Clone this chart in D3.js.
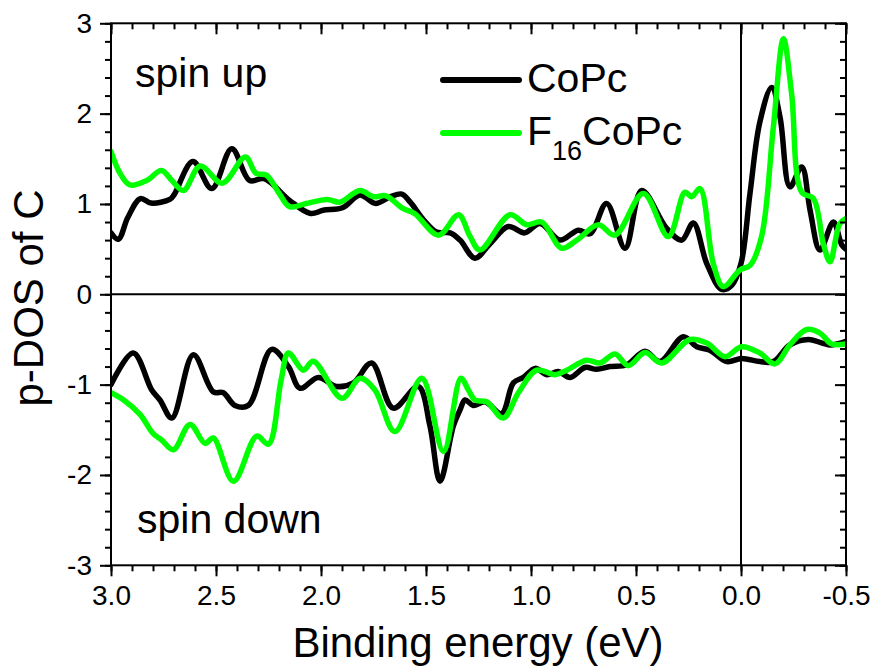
<!DOCTYPE html>
<html><head><meta charset="utf-8">
<script src="https://cdn.jsdelivr.net/npm/d3@7"></script>
<style>
html,body{margin:0;padding:0;background:#fff;}
svg{display:block;}
text{font-family:"Liberation Sans",Arial,Helvetica,sans-serif;fill:#000;}
</style></head>
<body>
<svg id="chart" width="874" height="667"></svg>
<script>
// ---- data (binding energy eV, p-DOS) ----
const copcUp = [[3.0,0.68],[2.965,0.61],[2.92,0.85],[2.86,1.06],[2.81,1.01],[2.72,1.05],[2.70,1.10],[2.61,1.47],[2.52,1.17],[2.425,1.61],[2.34,1.26],[2.27,1.28],[2.15,1.04],[2.05,0.895],[1.99,0.93],[1.895,0.96],[1.815,1.10],[1.74,1.005],[1.67,1.08],[1.615,1.11],[1.575,1.02],[1.51,0.82],[1.45,0.69],[1.385,0.68],[1.338,0.60],[1.267,0.40],[1.195,0.56],[1.108,0.75],[1.03,0.68],[0.957,0.785],[0.862,0.60],[0.775,0.71],[0.719,0.67],[0.64,1.005],[0.552,0.51],[0.473,1.15],[0.354,0.73],[0.282,0.60],[0.227,0.79],[0.163,0.34],[0.092,0.055],[0.044,0.10],[0.0,0.34],[-0.043,1.12],[-0.09,1.91],[-0.146,2.29],[-0.186,1.96],[-0.233,1.19],[-0.289,1.41],[-0.329,0.93],[-0.376,0.49],[-0.44,0.80],[-0.48,0.545],[-0.5,0.50]];
const f16Up = [[3.0,1.58],[2.957,1.34],[2.91,1.21],[2.83,1.26],[2.76,1.37],[2.71,1.26],[2.655,1.15],[2.575,1.42],[2.47,1.23],[2.36,1.52],[2.31,1.34],[2.26,1.32],[2.20,1.12],[2.15,0.97],[2.07,1.005],[1.97,1.05],[1.91,1.02],[1.815,1.15],[1.75,1.08],[1.69,1.09],[1.61,0.95],[1.555,0.895],[1.44,0.655],[1.345,0.88],[1.29,0.64],[1.243,0.49],[1.10,0.88],[1.02,0.77],[0.949,0.80],[0.854,0.51],[0.782,0.60],[0.679,0.77],[0.60,0.655],[0.465,1.115],[0.346,0.64],[0.267,1.13],[0.235,1.08],[0.195,1.17],[0.132,0.34],[0.084,0.085],[0.005,0.27],[-0.043,0.32],[-0.098,0.64],[-0.154,1.85],[-0.202,2.83],[-0.241,2.22],[-0.289,1.13],[-0.345,1.06],[-0.392,0.56],[-0.424,0.36],[-0.47,0.78],[-0.5,0.84]];
const copcDown = [[3.0,-1.0],[2.894,-0.65],[2.806,-1.06],[2.767,-1.17],[2.71,-1.37],[2.608,-0.67],[2.513,-1.08],[2.465,-1.09],[2.41,-1.23],[2.346,-1.23],[2.235,-0.61],[2.155,-0.80],[2.10,-1.04],[2.013,-0.92],[1.925,-1.02],[1.846,-0.98],[1.759,-0.76],[1.656,-1.26],[1.537,-1.02],[1.481,-1.46],[1.433,-2.07],[1.37,-1.46],[1.338,-1.28],[1.314,-1.17],[1.275,-1.23],[1.219,-1.19],[1.14,-1.32],[1.084,-0.98],[1.036,-0.92],[0.98,-0.82],[0.925,-0.89],[0.87,-0.855],[0.814,-0.92],[0.743,-0.81],[0.687,-0.83],[0.624,-0.80],[0.544,-0.78],[0.457,-0.63],[0.386,-0.745],[0.275,-0.47],[0.211,-0.58],[0.148,-0.62],[0.068,-0.745],[-0.003,-0.71],[-0.09,-0.745],[-0.154,-0.745],[-0.233,-0.56],[-0.321,-0.50],[-0.424,-0.56],[-0.5,-0.52]];
const f16Down = [[3.0,-1.09],[2.94,-1.17],[2.862,-1.33],[2.80,-1.54],[2.76,-1.61],[2.703,-1.72],[2.624,-1.44],[2.552,-1.65],[2.513,-1.59],[2.417,-2.07],[2.306,-1.57],[2.25,-1.66],[2.19,-0.95],[2.155,-0.65],[2.084,-0.84],[2.037,-0.74],[1.90,-1.15],[1.814,-0.93],[1.743,-1.06],[1.648,-1.52],[1.52,-0.93],[1.417,-1.74],[1.334,-0.93],[1.298,-1.06],[1.267,-1.17],[1.211,-1.19],[1.132,-1.37],[1.06,-1.09],[0.973,-0.84],[0.885,-0.89],[0.83,-0.84],[0.735,-0.73],[0.671,-0.76],[0.60,-0.66],[0.536,-0.79],[0.457,-0.645],[0.378,-0.76],[0.243,-0.50],[0.163,-0.54],[0.076,-0.69],[-0.003,-0.58],[-0.09,-0.65],[-0.162,-0.77],[-0.233,-0.56],[-0.313,-0.39],[-0.376,-0.43],[-0.432,-0.55],[-0.5,-0.55]];

const xTicks = [3.0, 2.5, 2.0, 1.5, 1.0, 0.5, 0.0, -0.5];
const yTicks = [-3, -2, -1, 0, 1, 2, 3];
const seriesNames = ["CoPc", "F16CoPc"];
const seriesColors = ["#000000", "#00ff00"];

// ---- layout ----
const svg = d3.select("#chart");
const L = 111, R = 846, T = 23.3, B = 565.3;
const x = d3.scaleLinear().domain([3.0, -0.5]).range([L, R]);
const y = d3.scaleLinear().domain([-3, 3]).range([B, T]);

svg.append("defs").append("clipPath").attr("id", "clip")
  .append("rect").attr("x", L).attr("y", T).attr("width", R - L).attr("height", B - T);

// zero lines
svg.append("line").attr("x1", L).attr("x2", R).attr("y1", y(0)).attr("y2", y(0))
  .attr("stroke", "#000").attr("stroke-width", 2);
svg.append("line").attr("x1", x(0)).attr("x2", x(0)).attr("y1", T).attr("y2", B)
  .attr("stroke", "#000").attr("stroke-width", 2);

// curves
const line = d3.line().x(d => x(d[0])).y(d => y(d[1])).curve(d3.curveCatmullRom.alpha(0.5));
const g = svg.append("g").attr("clip-path", "url(#clip)");
[[copcUp, 0], [copcDown, 0], [f16Up, 1], [f16Down, 1]].forEach(([data, i]) => {
  g.append("path").datum(data).attr("d", line)
    .attr("fill", "none").attr("stroke", seriesColors[i]).attr("stroke-width", 5.5)
    .attr("stroke-linejoin", "round").attr("stroke-linecap", "round");
});

// axes
const minorX = d3.range(-0.5, 3.0001, 0.1).map(v => +v.toFixed(2));
const minorY = d3.range(-3, 3.0001, 0.2).map(v => +v.toFixed(2));

function styleAxis(sel) {
  sel.select(".domain").remove();
  sel.selectAll("line").attr("stroke", "#000").attr("stroke-width", 2);
}
// minor ticks
svg.append("g").attr("transform", `translate(0,${B})`)
  .call(d3.axisBottom(x).tickValues(minorX).tickSize(6).tickFormat("")).call(styleAxis);
svg.append("g").attr("transform", `translate(0,${T})`)
  .call(d3.axisBottom(x).tickValues(minorX).tickSize(6).tickFormat("")).call(styleAxis);
svg.append("g").attr("transform", `translate(${L},0)`)
  .call(d3.axisLeft(y).tickValues(minorY).tickSize(6).tickFormat("")).call(styleAxis);
svg.append("g").attr("transform", `translate(${R},0)`)
  .call(d3.axisLeft(y).tickValues(minorY).tickSize(6).tickFormat("")).call(styleAxis);
// major ticks
const bx = svg.append("g").attr("transform", `translate(0,${B})`)
  .call(d3.axisBottom(x).tickValues(xTicks).tickSize(11).tickPadding(9).tickFormat(d3.format(".1f"))).call(styleAxis);
svg.append("g").attr("transform", `translate(0,${T})`)
  .call(d3.axisBottom(x).tickValues(xTicks).tickSize(11).tickFormat("")).call(styleAxis);
const ly = svg.append("g").attr("transform", `translate(${L},0)`)
  .call(d3.axisLeft(y).tickValues(yTicks).tickSize(11).tickPadding(8).tickFormat(d3.format("d"))).call(styleAxis);
svg.append("g").attr("transform", `translate(${R},0)`)
  .call(d3.axisLeft(y).tickValues(yTicks).tickSize(11).tickFormat("")).call(styleAxis);
[bx, ly].forEach(a => a.selectAll("text")
  .attr("font-family", '"Liberation Sans",Arial,sans-serif').attr("font-size", 28).attr("fill", "#000"));
ly.selectAll("text").text(d => d < 0 ? "-" + Math.abs(d) : d);
bx.selectAll("text").text(d => (d < 0 ? "-" : "") + Math.abs(d).toFixed(1));

// frame
svg.append("rect").attr("x", L).attr("y", T).attr("width", R - L).attr("height", B - T)
  .attr("fill", "none").attr("stroke", "#000").attr("stroke-width", 2);

// axis titles
svg.append("text").attr("x", 478).attr("y", 657).attr("text-anchor", "middle")
  .attr("font-size", 42).text("Binding energy (eV)");
svg.append("text").attr("transform", "translate(43,298) rotate(-90)").attr("text-anchor", "middle")
  .attr("font-size", 42).text("p-DOS of C");

// annotations
svg.append("text").attr("x", 135).attr("y", 87).attr("font-size", 41).text("spin up");
svg.append("text").attr("x", 137).attr("y", 533).attr("font-size", 41).text("spin down");

// legend
const legY = [80, 133];
seriesNames.forEach((n, i) => {
  svg.append("line").attr("x1", 443).attr("x2", 519).attr("y1", legY[i]).attr("y2", legY[i])
    .attr("stroke", seriesColors[i]).attr("stroke-width", 6).attr("stroke-linecap", "round");
});
svg.append("text").attr("x", 527).attr("y", 92).attr("font-size", 41).text("CoPc");
const t2 = svg.append("text").attr("x", 527).attr("y", 145).attr("font-size", 41);
t2.append("tspan").text("F");
t2.append("tspan").attr("font-size", 27).attr("dy", 15).text("16");
t2.append("tspan").attr("dy", -15).text("CoPc");
</script>
</body></html>
